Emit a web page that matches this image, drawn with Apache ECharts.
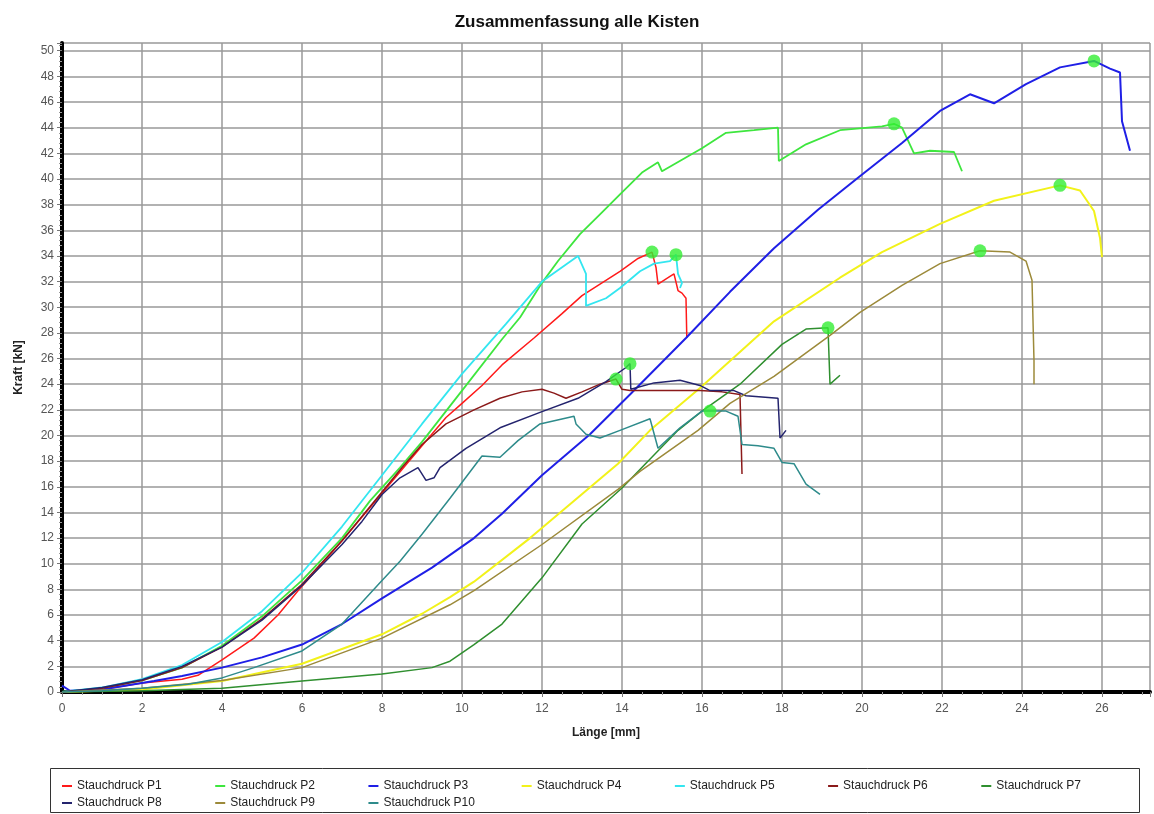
<!DOCTYPE html>
<html>
<head>
<meta charset="utf-8">
<script src="https://cdn.jsdelivr.net/npm/echarts@6/dist/echarts.min.js"></script>
<style>
html,body{margin:0;padding:0;background:#fff;}
#chart{width:1154px;height:814px;}
</style>
</head>
<body>
<div id="chart"></div>
<script>
// ---- data (x in mm, y in kN) ----
const seriesNames = ['Stauchdruck P1','Stauchdruck P2','Stauchdruck P3','Stauchdruck P4','Stauchdruck P5','Stauchdruck P6','Stauchdruck P7','Stauchdruck P8','Stauchdruck P9','Stauchdruck P10'];

const p1 = [[0,0],[1,0.2],[2,0.7],[3,1.0],[3.4,1.3],[4,2.5],[4.8,4.2],[5.4,6.0],[5.9,7.9],[6.5,10.0],[7,11.8],[8,15.5],[9,19.2],[9.6,21.4],[10,22.5],[10.5,23.9],[11,25.5],[11.8,27.6],[12.5,29.5],[13,30.9],[13.95,32.8],[14.4,33.8],[14.75,34.3],[14.8,34.2],[14.85,33.1],[14.9,31.8],[15.2,32.4],[15.3,32.6],[15.4,31.3],[15.5,31.1],[15.6,30.7],[15.62,27.6]];
const p2 = [[0,0],[1,0.3],[2,0.9],[3,1.9],[4,3.6],[5,5.9],[6,8.7],[7,12.0],[7.7,14.9],[8.45,17.5],[9,19.5],[10,23.5],[11,27.5],[11.45,29.2],[12,31.9],[12.4,33.6],[12.95,35.7],[13.5,37.4],[13.95,38.8],[14.5,40.5],[14.9,41.3],[15.0,40.6],[15.5,41.5],[16.0,42.4],[16.6,43.6],[17.3,43.8],[17.9,44.0],[17.92,41.4],[18.6,42.7],[19.45,43.8],[20.5,44.1],[20.8,44.3],[21.0,44.0],[21.3,42.0],[21.7,42.2],[22.3,42.1],[22.5,40.6]];
const p3 = [[0,0.5],[0.2,0.1],[1,0.2],[2.3,0.85],[3,1.25],[4,1.9],[5,2.7],[6,3.7],[7,5.3],[8,7.3],[9.25,9.7],[10.3,12.0],[11,13.9],[12,16.9],[13.2,20.1],[14.2,23.2],[15.6,27.6],[16.7,31.2],[17.8,34.6],[18.9,37.6],[19.9,40.1],[21,42.8],[21.95,45.3],[22.7,46.6],[23.3,45.9],[24.1,47.4],[24.95,48.7],[25.8,49.2],[26.2,48.6],[26.45,48.3],[26.5,44.5],[26.7,42.2]];
const p4 = [[0,0],[2,0.2],[4,0.85],[6,2.2],[8,4.5],[9,6.1],[9.7,7.4],[10.3,8.6],[11.7,12.0],[13.9,17.8],[14.7,20.4],[15.95,23.7],[17.8,28.9],[19.45,32.3],[20.5,34.3],[21.95,36.5],[23.3,38.3],[24.95,39.5],[25.45,39.1],[25.8,37.5],[25.95,35.4],[26.0,33.9]];
const p5 = [[0,0],[1,0.35],[2,1.0],[3,2.1],[4,3.9],[5,6.3],[6,9.3],[7,12.9],[8,16.9],[9,20.9],[10,24.8],[11.1,28.7],[12,32.0],[12.9,34.0],[13.1,32.6],[13.1,30.1],[13.6,30.7],[13.95,31.5],[14.45,32.8],[14.8,33.4],[15.2,33.6],[15.35,34.1],[15.4,32.6],[15.5,31.9],[15.45,31.5]];
const p6 = [[0,0],[1,0.3],[2,0.9],[3,1.9],[4,3.5],[5,5.7],[6,8.4],[7,11.8],[8,15.6],[8.5,17.5],[9,19.3],[9.6,20.9],[10.3,22.0],[10.95,22.9],[11.5,23.4],[12.0,23.6],[12.3,23.3],[12.6,22.9],[13.0,23.4],[13.45,24.0],[13.85,24.4],[14.0,23.6],[14.2,23.5],[14.95,23.5],[15.95,23.5],[16.5,23.4],[16.95,23.2],[17.0,17.0]];
const p7 = [[0,0],[2,0.1],[4,0.3],[6,0.85],[8,1.4],[9.25,1.9],[9.7,2.4],[10.3,3.7],[11.0,5.3],[12.0,8.9],[13.0,13.1],[14.0,15.9],[15.4,20.4],[16.0,21.9],[16.95,24.0],[18.0,27.1],[18.6,28.3],[19.15,28.4],[19.2,24.0],[19.45,24.7]];
const p8 = [[0,0],[1,0.35],[2,0.95],[3,2.0],[4,3.5],[5,5.6],[6,8.3],[7,11.5],[7.5,13.3],[8.0,15.4],[8.45,16.7],[8.9,17.5],[9.1,16.5],[9.3,16.7],[9.45,17.5],[10.1,19.0],[10.95,20.6],[11.95,21.8],[12.9,22.9],[13.6,24.2],[14.1,25.3],[14.2,25.6],[14.22,23.6],[14.8,24.1],[15.45,24.3],[15.95,23.9],[16.2,23.5],[16.8,23.5],[17.1,23.1],[17.9,22.9],[17.95,19.8],[18.1,20.4]];
const p9 = [[0,0],[2,0.3],[4,0.9],[6,1.9],[8,4.2],[9.7,6.8],[10.3,7.9],[12,11.5],[13.9,15.8],[14.45,17.2],[15.9,20.4],[16.7,22.5],[17.8,24.6],[19.2,27.8],[19.95,29.6],[21.0,31.7],[21.95,33.4],[22.95,34.4],[23.7,34.3],[24.1,33.6],[24.25,32.1],[24.3,25.8],[24.3,24.0]];
const p10 = [[0,0],[1,0.1],[2,0.3],[3.15,0.6],[4,1.1],[4.8,1.9],[6.0,3.2],[7.0,5.3],[8.0,8.7],[8.45,10.2],[9.0,12.3],[9.7,15.1],[10.5,18.4],[10.95,18.3],[11.4,19.6],[11.95,20.9],[12.8,21.5],[12.85,20.9],[13.1,20.1],[13.45,19.8],[13.95,20.4],[14.7,21.3],[14.9,19.0],[15.45,20.6],[16.0,21.9],[16.2,21.9],[16.6,21.9],[16.9,21.5],[17.0,19.3],[17.4,19.2],[17.8,19.0],[18.0,17.9],[18.3,17.8],[18.6,16.2],[18.95,15.4]];

const peakX = [14.75, 20.8, 25.8, 24.95, 15.35, 13.85, 19.15, 14.2, 22.95, 16.2];
const peakY = [34.3, 44.3, 49.2, 39.5, 34.1, 24.4, 28.4, 25.6, 34.4, 21.9];

const colors = ['#ff1a1a','#3ee63e','#1f1fe6','#f2f21a','#33e6f0','#8b1a1a','#2f8f2f','#24246e','#9c8a3a','#2e8b8b'];
const allData = [p1,p2,p3,p4,p5,p6,p7,p8,p9,p10];
const widths = [1.5,1.8,2,2,1.8,1.5,1.5,1.5,1.5,1.5];

const chart = echarts.init(document.getElementById('chart'));
const series = allData.map((d,i)=>({
  name: seriesNames[i], type:'line', data:d, showSymbol:false, symbol:'none',
  lineStyle:{color:colors[i], width:widths[i]}, itemStyle:{color:colors[i]},
  animation:false, z:2
}));
series.push({
  name:'peaks', type:'scatter', data: peakX.map((x,i)=>[x,peakY[i]]),
  symbolSize:13, itemStyle:{color:'#33ee33'}, z:5, animation:false
});

const legendCommon = {
  icon:'rect', itemWidth:10, itemHeight:2, itemGap:53.5,
  textStyle:{fontFamily:'Liberation Sans, Arial', fontSize:12, color:'#222'},
  orient:'horizontal', padding:0
};

chart.setOption({
  backgroundColor:'#fff',
  animation:false,
  title:{text:'Zusammenfassung alle Kisten', left:'center', top:9,
    textStyle:{fontFamily:'Liberation Sans, Arial', fontSize:17, fontWeight:'bold', color:'#111'}},
  grid:{left:62, top:43, right:4, bottom:122, containLabel:false},
  legend:[
    Object.assign({}, legendCommon, {data:seriesNames.slice(0,7), left:62, top:780}),
    Object.assign({}, legendCommon, {data:seriesNames.slice(7), left:62, top:797})
  ],
  graphic:[{type:'rect', shape:{x:50.5,y:768.5,width:1089,height:44}, style:{fill:'none', stroke:'#333', lineWidth:1}, z:-1}],
  xAxis:{
    type:'value', min:0, max:27.2, interval:2,
    name:'Länge [mm]', nameLocation:'middle', nameGap:35,
    nameTextStyle:{fontFamily:'Liberation Sans, Arial', fontSize:12, fontWeight:'bold', color:'#222'},
    axisLine:{show:true, onZero:false, lineStyle:{color:'#000', width:4}},
    axisTick:{show:true, length:5, lineStyle:{color:'#777'}},
    minorTick:{show:true, splitNumber:4, length:3, lineStyle:{color:'#999'}},
    axisLabel:{fontFamily:'Liberation Sans, Arial', fontSize:12, color:'#555', margin:11, showMaxLabel:false},
    splitLine:{show:true, lineStyle:{color:'#999', width:1.5}}
  },
  yAxis:{
    type:'value', min:0, max:50.6, interval:2,
    name:'Kraft [kN]', nameLocation:'middle', nameGap:37,
    nameTextStyle:{fontFamily:'Liberation Sans, Arial', fontSize:12, fontWeight:'bold', color:'#222'},
    axisLine:{show:true, onZero:false, lineStyle:{color:'#000', width:4}},
    axisTick:{show:true, length:5, lineStyle:{color:'#777'}},
    minorTick:{show:true, splitNumber:5, length:3, lineStyle:{color:'#999'}},
    axisLabel:{fontFamily:'Liberation Sans, Arial', fontSize:12, color:'#555', margin:8, showMaxLabel:false},
    splitLine:{show:true, lineStyle:{color:'#999', width:1.5}}
  },
  series: series
});
</script>
</body>
</html>
